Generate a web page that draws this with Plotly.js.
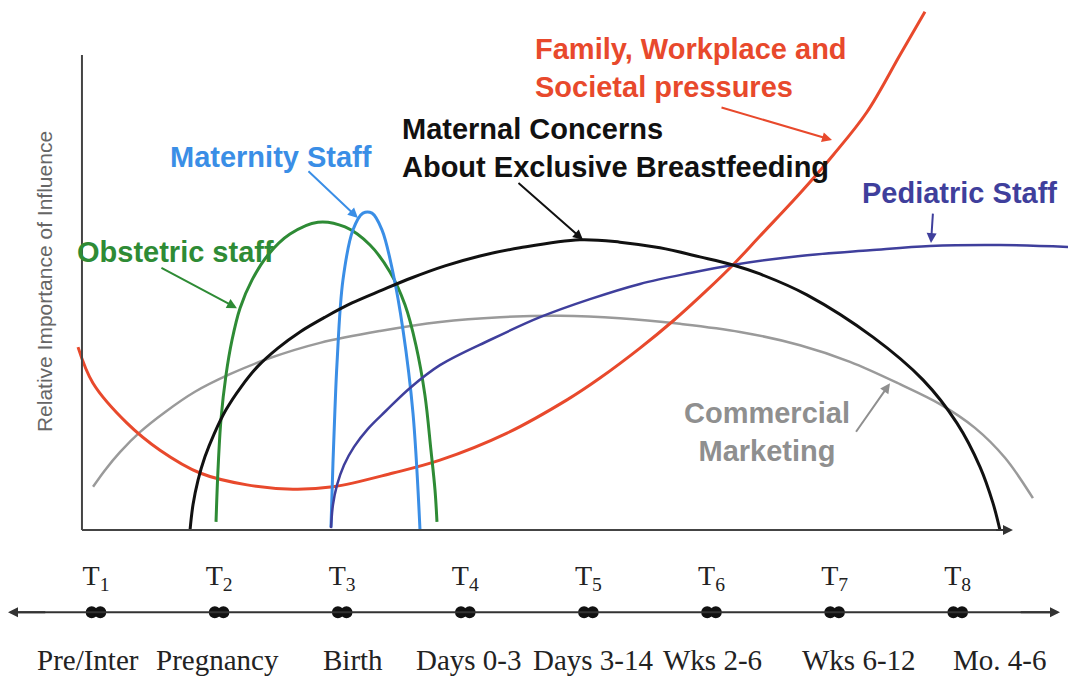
<!DOCTYPE html>
<html>
<head>
<meta charset="utf-8">
<script src="https://cdn.plot.ly/plotly-3.0.1.min.js"></script>
<style>html,body{margin:0;padding:0;background:#fff;}#chart{width:1068px;height:679px;}</style>
</head>
<body>
<div id="chart"></div>
<script>
// Time points (T1..T8) and their stage names
const timePoints = [1, 2, 3, 4, 5, 6, 7, 8];
const timeTicks = ["T<sub>1</sub>", "T<sub>2</sub>", "T<sub>3</sub>", "T<sub>4</sub>", "T<sub>5</sub>", "T<sub>6</sub>", "T<sub>7</sub>", "T<sub>8</sub>"];
const stageLabels = ["Pre/Inter", "Pregnancy", "Birth", "Days 0-3", "Days 3-14", "Wks 2-6", "Wks 6-12", "Mo. 4-6"];

// Relative importance of influence (0-100)
const familyT = [0.854, 0.976, 1.252, 1.520, 1.845, 2.227, 2.600, 2.925, 3.413, 3.794, 4.339, 4.826, 5.094, 5.419, 5.687, 5.963, 6.174, 6.394, 6.719, 6.987, 7.263, 7.531, 7.734];
const familyY = [38.5, 30.9, 22.5, 16.8, 12.0, 9.5, 8.6, 9.1, 12.0, 14.7, 20.4, 27.4, 32.0, 38.3, 44.0, 50.5, 55.8, 61.9, 70.9, 78.9, 88.0, 100.0, 109.1];

const maternalT = [1.764, 1.788, 1.829, 1.885, 1.959, 2.056, 2.178, 2.316, 2.478, 2.657, 2.860, 3.080, 3.323, 3.567, 3.835, 4.119, 4.444, 4.931, 5.256, 5.581, 5.906, 6.174, 6.394, 6.775, 7.312, 7.718, 7.994, 8.181, 8.286, 8.343];
const maternalY = [0, 5.3, 10.5, 15.4, 20.2, 25.3, 30.1, 34.5, 38.3, 41.7, 44.8, 47.8, 50.5, 53.1, 55.6, 57.7, 59.4, 61.1, 60.6, 59.4, 57.5, 55.8, 53.9, 49.5, 40.6, 31.6, 22.5, 13.3, 5.7, 0];

const obstetricT = [1.975, 1.991, 2.015, 2.056, 2.105, 2.170, 2.267, 2.397, 2.576, 2.803, 3.023, 3.226, 3.388, 3.510, 3.599, 3.672, 3.721, 3.754, 3.770];
const obstetricY = [1.7, 12.6, 23.2, 32.6, 40.0, 46.7, 52.6, 57.9, 62.3, 64.8, 63.8, 60.0, 54.3, 47.4, 38.9, 28.4, 16.8, 8.4, 1.7];

const maternityT = [2.909, 2.925, 2.941, 2.958, 3.006, 3.088, 3.169, 3.242, 3.323, 3.413, 3.494, 3.575, 3.632];
const maternityY = [0.6, 14.1, 25.3, 35.2, 52.6, 63.2, 66.7, 66.7, 63.2, 54.1, 42.1, 24.6, 0];

const pediatricT = [2.909, 2.925, 2.958, 3.015, 3.096, 3.209, 3.356, 3.551, 3.794, 4.200, 4.607, 5.013, 5.419, 5.825, 6.174, 6.719, 7.287, 7.775, 8.343, 8.896];
const pediatricY = [0.4, 5.3, 9.5, 13.7, 17.5, 21.3, 25.1, 29.9, 34.7, 40.0, 44.8, 48.6, 51.8, 54.1, 55.8, 57.7, 58.9, 59.8, 60.0, 59.6];

const commercialT = [0.976, 1.073, 1.195, 1.357, 1.560, 1.804, 2.088, 2.413, 2.820, 3.307, 3.794, 4.282, 4.769, 5.256, 5.744, 6.231, 6.719, 7.125, 7.531, 7.856, 8.140, 8.384, 8.611];
const commercialY = [9.1, 12.6, 16.4, 20.6, 24.8, 29.1, 32.8, 36.2, 39.4, 41.9, 43.8, 44.8, 45.1, 44.6, 43.4, 41.7, 38.9, 35.4, 30.7, 26.5, 21.5, 15.2, 6.7];

// ---- styling / layout ----
const RED = '#e8492c', BLACK = '#111111', GREEN = '#2e8b35', BLUE = '#3a8ee6', INDIGO = '#3f3f9c', GRAY = '#9a9a9a';
const LBL_FONT = '"Liberation Sans", Arial, sans-serif';
const SERIF = '"Liberation Serif", "Times New Roman", serif';

function curve(x, y, color, width) {
  return {x: x, y: y, type: 'scatter', mode: 'lines', hoverinfo: 'skip',
          line: {color: color, width: width, shape: 'spline', smoothing: 1}};
}

const TL_Y = -17.3;   // timeline level
const traces = [
  curve(commercialT, commercialY, GRAY, 2.5),
  curve(familyT, familyY, RED, 3),
  curve(obstetricT, obstetricY, GREEN, 3),
  curve(maternityT, maternityY, BLUE, 3),
  curve(pediatricT, pediatricY, INDIGO, 2.5),
  curve(maternalT, maternalY, BLACK, 3),
  // timeline double dots
  {x: timePoints.map(t => t - 0.035), y: timePoints.map(() => TL_Y), type: 'scatter', mode: 'markers', hoverinfo: 'skip',
   marker: {color: '#111', size: 12, symbol: 'circle'}},
  {x: timePoints.map(t => t + 0.035), y: timePoints.map(() => TL_Y), type: 'scatter', mode: 'markers', hoverinfo: 'skip',
   marker: {color: '#111', size: 12, symbol: 'circle'}},
  // T labels
  {x: timePoints, y: timePoints.map(() => -10.1), type: 'scatter', mode: 'text', text: timeTicks, hoverinfo: 'skip',
   textfont: {family: SERIF, size: 28, color: '#222'}}
];

const stageShift = [-8, -2, 11, 4, 5, 1, 24, 42];
const annotations = [];
stageLabels.forEach((s, i) => annotations.push({
  x: timePoints[i], y: -27.4, xref: 'x', yref: 'y', text: s, showarrow: false, xshift: stageShift[i],
  font: {family: SERIF, size: 29, color: '#222'}
}));

function label(x, y, text, color, anchor, align) {
  annotations.push({x: x, y: y, xref: 'x', yref: 'y', text: text, showarrow: false, xanchor: anchor || 'left', yanchor: 'middle',
    align: align || 'left', font: {family: LBL_FONT, size: 29, color: color, weight: 'bold'}});
}
function pointer(x, y, ax, ay, color) {
  annotations.push({x: x, y: y, xref: 'x', yref: 'y', text: '', showarrow: true, ax: ax, ay: ay,
    arrowhead: 2, arrowsize: 1, arrowwidth: 2, arrowcolor: color});
}
label(4.550, 97.2, 'Family, Workplace and<br>Societal pressures', RED);
pointer(6.979, 82.1, -112, -33, RED);
label(3.469, 80.4, 'Maternal Concerns<br>About Exclusive Breastfeeding', BLACK);
pointer(4.956, 61.1, -66, -58, BLACK);
label(1.585, 78.5, 'Maternity Staff', BLUE);
pointer(3.128, 65.7, -51, -48, BLUE);
label(0.829, 58.5, 'Obstetric staff', GREEN);
pointer(2.145, 46.7, -77, -41, GREEN);
label(7.206, 70.9, 'Pediatric Staff', INDIGO);
pointer(7.783, 60.4, 2, -31, INDIGO);
label(6.451, 20.7, 'Commercial<br>Marketing', '#8f8f8f', 'center', 'center');
pointer(7.450, 30.9, -35, 50, '#8f8f8f');

// y-axis title
annotations.push({x: 0.578, y: 52.2, xref: 'x', yref: 'y', text: 'Relative Importance of Influence', showarrow: false,
  textangle: -90, font: {family: LBL_FONT, size: 21, color: '#666'}});

// x-axis arrowhead and timeline arrowheads
annotations.push({x: 8.449, y: 0, ax: 8.30, ay: 0, axref: 'x', ayref: 'y', xref: 'x', yref: 'y', text: '', showarrow: true,
  arrowhead: 2, arrowsize: 1, arrowwidth: 2, arrowcolor: '#333'});
annotations.push({x: 8.831, y: TL_Y, ax: 8.5, ay: TL_Y, axref: 'x', ayref: 'y', xref: 'x', yref: 'y', text: '', showarrow: true,
  arrowhead: 2, arrowsize: 1, arrowwidth: 2, arrowcolor: '#333'});
annotations.push({x: 0.285, y: TL_Y, ax: 0.6, ay: TL_Y, axref: 'x', ayref: 'y', xref: 'x', yref: 'y', text: '', showarrow: true,
  arrowhead: 2, arrowsize: 1, arrowwidth: 2, arrowcolor: '#333'});

const shapes = [
  {type: 'line', xref: 'x', yref: 'y', x0: 0.886, x1: 0.886, y0: 0, y1: 100, line: {color: '#444', width: 2}},
  {type: 'line', xref: 'x', yref: 'y', x0: 0.886, x1: 8.40, y0: 0, y1: 0, line: {color: '#444', width: 2}},
  {type: 'line', xref: 'x', yref: 'y', x0: 0.32, x1: 8.80, y0: TL_Y, y1: TL_Y, line: {color: '#333', width: 2}}
];

const layout = {
  width: 1068, height: 679,
  margin: {l: 0, r: 0, t: 0, b: 0},
  paper_bgcolor: '#fff', plot_bgcolor: '#fff',
  showlegend: false,
  xaxis: {range: [0.2202, 8.896], visible: false, fixedrange: true},
  yaxis: {range: [-31.37, 111.58], visible: false, fixedrange: true},
  annotations: annotations,
  shapes: shapes
};

Plotly.newPlot('chart', traces, layout, {displayModeBar: false, staticPlot: true});
</script>
</body>
</html>
